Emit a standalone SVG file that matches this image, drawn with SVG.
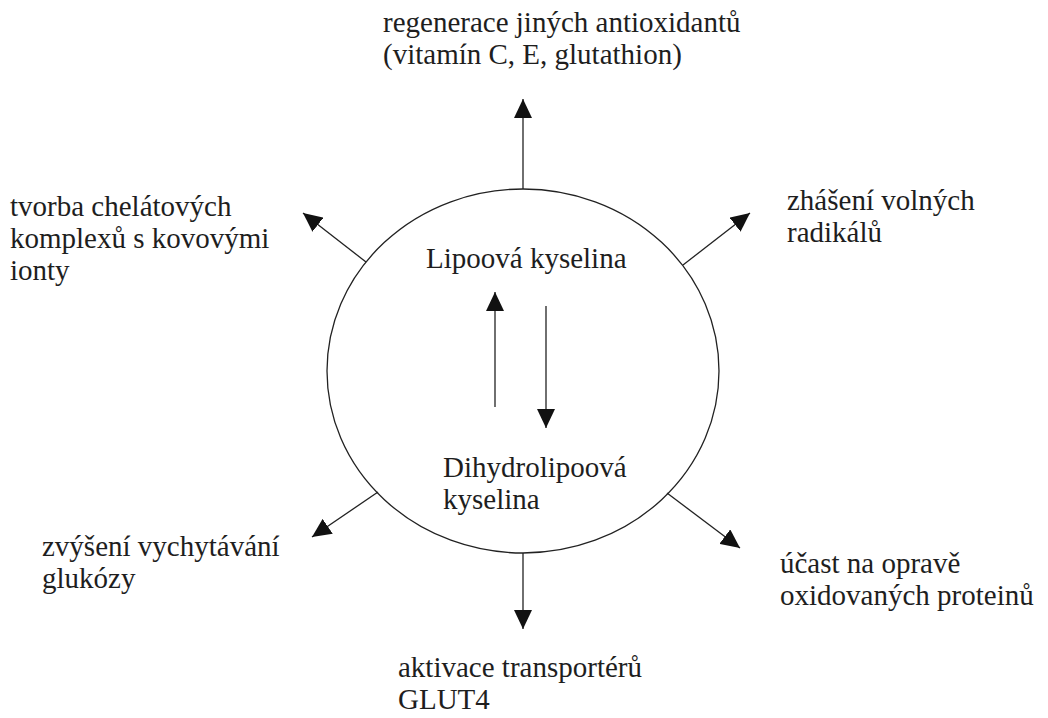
<svg xmlns="http://www.w3.org/2000/svg" width="1048" height="718" viewBox="0 0 1048 718">
<defs>
<marker id="ah" viewBox="0 0 19 18" refX="19" refY="9" markerWidth="19" markerHeight="18" markerUnits="userSpaceOnUse" orient="auto">
<path d="M0,0 L19,9 L0,18 z" fill="#111"/>
</marker>
<style>
text{font-family:"Liberation Serif","Times New Roman","DejaVu Serif",serif;font-size:29px;fill:#1e1e1e}
.c{fill:none;stroke:#222;stroke-width:1.3}
.a{stroke:#222;stroke-width:1.3;fill:none;marker-end:url(#ah)}
</style>
</defs>
<rect width="1048" height="718" fill="#fff"/>
<g id="cycle">
<ellipse class="c" cx="523" cy="371" rx="196" ry="182"/>
</g>
<g id="lipoova"><text x="426" y="268">Lipoová kyselina</text></g>
<g id="dihydro"><text x="443" y="477">Dihydrolipoová</text><text x="443" y="509">kyselina</text></g>
<g id="regenerace"><text x="383" y="32">regenerace jiných antioxidantů</text><text x="383" y="64">(vitamín C, E, glutathion)</text></g>
<g id="chelaty"><text x="10" y="216">tvorba chelátových</text><text x="10" y="248">komplexů s kovovými</text><text x="10" y="280">ionty</text></g>
<g id="radikaly"><text x="787" y="210">zhášení volných</text><text x="787" y="242">radikálů</text></g>
<g id="glukoza"><text x="42" y="556">zvýšení vychytávání</text><text x="42" y="588">glukózy</text></g>
<g id="proteiny"><text x="780" y="573">účast na opravě</text><text x="780" y="605">oxidovaných proteinů</text></g>
<g id="glut4"><text x="398" y="677">aktivace transportérů</text><text x="398" y="709">GLUT4</text></g>
<g id="connectors">
<line class="a" x1="523" y1="189" x2="523" y2="99"/>
<line class="a" x1="366" y1="262" x2="303" y2="213"/>
<line class="a" x1="683" y1="265" x2="750" y2="213"/>
<line class="a" x1="378" y1="492" x2="312" y2="537"/>
<line class="a" x1="667" y1="493" x2="740" y2="548"/>
<line class="a" x1="523" y1="553" x2="523" y2="629"/>
<line class="a" x1="495" y1="407" x2="495" y2="292"/>
<line class="a" x1="546" y1="306" x2="546" y2="428"/>
</g>
</svg>
